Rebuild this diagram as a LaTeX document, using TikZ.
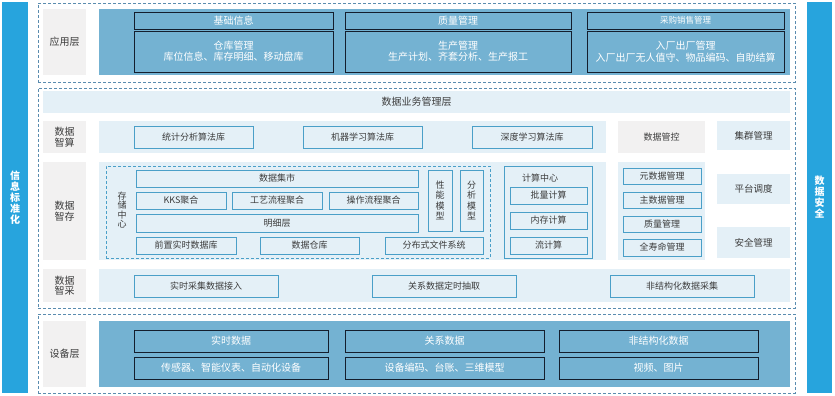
\documentclass[tikz,border=0pt]{standalone}
\usepackage{fontspec}
\setmainfont{Noto Sans CJK SC}
\definecolor{sidec}{RGB}{39,164,221}
\definecolor{bpanel}{RGB}{116,178,210}
\definecolor{bborder}{RGB}{20,30,45}
\definecolor{lpanel}{RGB}{228,240,247}
\definecolor{grayc}{RGB}{242,241,241}
\definecolor{wborder}{RGB}{74,159,200}
\definecolor{dashc}{RGB}{90,140,175}
\definecolor{txtc}{RGB}{60,60,60}
\newcommand\mybox[7]{\node[#1,minimum width={(#5-#3)*1pt},minimum height={(#6-#4)*1pt}] (#2) at ({(#3+#5)/2},{(#4+#6)/2}) {#7};}
\tikzset{
  base/.style={inner sep=0pt,outer sep=0pt,align=center},
  side/.style={base,fill=sidec,text=white,font=\fontsize{10}{11}\selectfont\bfseries},
  layer/.style={base,draw=dashc,dashed,dash pattern=on 3pt off 2pt,line width=0.7pt},
  lbl/.style={base,fill=grayc,text=txtc,font=\fontsize{10}{10.5}\selectfont},
  bpan/.style={base,fill=bpanel},
  lpan/.style={base,fill=lpanel,text=txtc,font=\fontsize{9}{10}\selectfont},
  bbox/.style={base,draw=bborder,line width=0.8pt,fill=bpanel,text=white,font=\fontsize{10}{11}\selectfont},
  wbox/.style={base,draw=wborder,line width=0.7pt,fill=lpanel,text=txtc,font=\fontsize{9}{10}\selectfont},
  gbox/.style={base,fill=grayc,text=txtc,font=\fontsize{9}{10}\selectfont},
  idash/.style={base,draw=wborder,dashed,dash pattern=on 3pt off 2pt,line width=0.7pt},
  plain/.style={base,text=txtc,font=\fontsize{9}{10}\selectfont}
}
\begin{document}
\begin{tikzpicture}[x=1pt,y=-1pt]
\useasboundingbox (0,0) rectangle (835,396);
% side bars
\mybox{side}{L}{2}{2}{28}{393}{信\\息\\标\\准\\化}
\mybox{side}{R}{807}{2}{832}{393}{数\\据\\安\\全}
% layers
\mybox{layer}{LA}{38}{3}{795}{82}{}
\mybox{layer}{LB}{38}{88}{795}{308}{}
\mybox{layer}{LC}{38}{314}{795}{393}{}
% application layer
\mybox{lbl}{appl}{43}{9}{86}{75}{应用层}
\mybox{bpan}{appp}{99}{9}{790}{75}{}
\mybox{bbox}{ah1}{134}{12}{333}{29}{基础信息}
\mybox{bbox}{ac1}{134}{31}{333}{72}{仓库管理\\库位信息、库存明细、移动盘库}
\mybox{bbox}{ah2}{345}{12}{571}{29}{质量管理}
\mybox{bbox}{ac2}{345}{31}{571}{72}{生产管理\\生产计划、齐套分析、生产报工}
\mybox{bbox,font=\fontsize{8.5}{9}\selectfont}{ah3}{587}{12}{784}{29}{采购销售管理}
\mybox{bbox}{ac3}{587}{31}{784}{72}{\raisebox{-4pt}{\shortstack{入厂出厂管理\\入厂出厂无人值守、物品编码、自助结算}}}
% data business management
\mybox{lpan,font=\fontsize{10}{11}\selectfont}{mgmt}{43}{91}{790}{113}{数据业务管理层}
% 数据智算
\mybox{lbl}{calcl}{43}{121}{86}{153}{数据\\智算}
\mybox{lpan}{calcp}{99}{121}{606}{153}{}
\mybox{wbox}{c1}{134}{126}{253}{148}{统计分析算法库}
\mybox{wbox}{c2}{303}{126}{422}{148}{机器学习算法库}
\mybox{wbox}{c3}{472}{126}{592}{148}{深度学习算法库}
\mybox{gbox}{ctrl}{618}{121}{705}{153}{数据管控}
\mybox{lpan,font=\fontsize{9.5}{10}\selectfont}{clus}{717}{121}{790}{150}{集群管理}
% 数据智存
\mybox{lbl}{stl}{43}{162}{86}{260}{数据\\智存}
\mybox{lpan}{stp}{99}{162}{606}{260}{}
\mybox{idash}{stc}{106}{166}{490}{258}{}
\node[plain,font=\fontsize{9}{9.5}\selectfont] (stcl) at (122,210) {存\\储\\中\\心};
\mybox{wbox}{s1}{136}{170}{418}{187}{数据集市}
\mybox{wbox}{s2}{136}{192}{226}{209}{KKS聚合}
\mybox{wbox}{s3}{232}{192}{322}{209}{工艺流程聚合}
\mybox{wbox}{s4}{329}{192}{418}{209}{操作流程聚合}
\mybox{wbox}{s5}{136}{214}{418}{232}{明细层}
\mybox{wbox}{s6}{136}{237}{236}{254}{前置实时数据库}
\mybox{wbox}{s7}{260}{237}{359}{254}{数据仓库}
\mybox{wbox}{s8}{385}{237}{483}{254}{分布式文件系统}
\mybox{wbox,font=\fontsize{9}{10.5}\selectfont}{m1}{428}{170}{452}{231}{性\\能\\模\\型}
\mybox{wbox,font=\fontsize{9}{10.5}\selectfont}{m2}{460}{170}{483}{231}{分\\析\\模\\型}
\mybox{wbox}{cc}{504}{166}{592}{258}{}
\node[plain] (ccl) at (540,178) {计算中心};
\mybox{wbox}{k1}{510}{187}{587}{204}{批量计算}
\mybox{wbox}{k2}{510}{212}{587}{229}{内存计算}
\mybox{wbox}{k3}{510}{237}{587}{254}{流计算}
\mybox{lpan}{mp}{618}{162}{705}{260}{}
\mybox{wbox}{d1}{623}{168}{701}{184}{元数据管理}
\mybox{wbox}{d2}{623}{192}{701}{208}{主数据管理}
\mybox{wbox}{d3}{623}{216}{701}{232}{质量管理}
\mybox{wbox}{d4}{623}{239}{701}{256}{全寿命管理}
\mybox{lpan,font=\fontsize{9.5}{10}\selectfont}{sch}{717}{174}{790}{204}{平台调度}
\mybox{lpan,font=\fontsize{9.5}{10}\selectfont}{sec}{717}{227}{790}{258}{安全管理}
% 数据智采
\mybox{lbl}{acql}{43}{269}{86}{302}{数据\\智采}
\mybox{lpan}{acqp}{99}{269}{790}{302}{}
\mybox{wbox}{q1}{134}{275}{278}{297}{实时采集数据接入}
\mybox{wbox}{q2}{372}{275}{516}{297}{关系数据定时抽取}
\mybox{wbox}{q3}{610}{275}{754}{297}{非结构化数据采集}
% device layer
\mybox{lbl}{devl}{43}{321}{86}{387}{设备层}
\mybox{bpan}{devp}{99}{321}{790}{387}{}
\mybox{bbox}{eh1}{134}{330}{328}{352}{实时数据}
\mybox{bbox}{ec1}{134}{357}{328}{379}{传感器、智能仪表、自动化设备}
\mybox{bbox}{eh2}{345}{330}{544}{352}{关系数据}
\mybox{bbox}{ec2}{345}{357}{544}{379}{设备编码、台账、三维模型}
\mybox{bbox}{eh3}{559}{330}{758}{352}{非结构化数据}
\mybox{bbox}{ec3}{559}{357}{758}{379}{视频、图片}
\end{tikzpicture}
\end{document}
